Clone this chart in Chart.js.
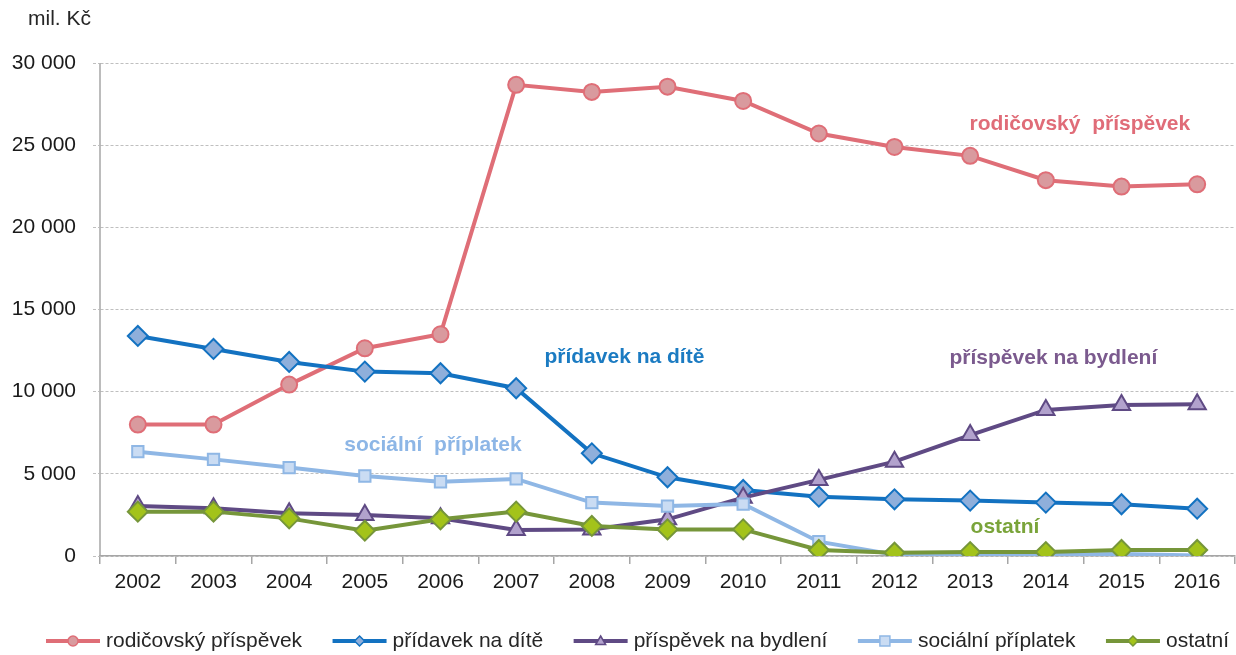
<!DOCTYPE html>
<html>
<head>
<meta charset="utf-8">
<script src="https://cdn.jsdelivr.net/npm/chart.js@4.4.1/dist/chart.umd.min.js"></script>
<style>
  html, body { margin: 0; padding: 0; background: #fff; }
  #wrap { width: 1236px; height: 655px; }
</style>
</head>
<body>
<div id="wrap"><canvas id="LineChart" width="1236" height="655"></canvas></div>
<script>
// Dávky státní sociální podpory, mil. Kč
const years = ["2002", "2003", "2004", "2005", "2006", "2007", "2008", "2009", "2010", "2011", "2012", "2013", "2014", "2015", "2016"];

const rodicovsky = [8000, 8000, 10430, 12640, 13490, 28670, 28240, 28560, 27690, 25710, 24890, 24350, 22870, 22480, 22620];
const pridavek = [13390, 12600, 11810, 11220, 11120, 10210, 6250, 4790, 4020, 3610, 3450, 3370, 3250, 3150, 2880];
const bydleni = [3050, 2900, 2600, 2500, 2290, 1580, 1620, 2230, 3550, 4630, 5740, 7360, 8890, 9190, 9230];
const socialni = [6350, 5880, 5380, 4870, 4520, 4690, 3250, 3040, 3160, 870, 80, 70, 80, 120, 30];
const ostatni = [2700, 2700, 2290, 1540, 2230, 2700, 1830, 1620, 1620, 370, 200, 240, 240, 370, 370];

const yTicks = [0, 5000, 10000, 15000, 20000, 25000, 30000];

const FONT = "'Liberation Sans', Arial, sans-serif";
const AXIS = "#a6a6a6";

const series = [
  { label: "rodičovský příspěvek", data: rodicovsky, line: "#df6e77", fill: "#d99a9e", style: "circle", r: 8, order: 5 },
  { label: "přídavek na dítě", data: pridavek, line: "#1372c1", fill: "#8fafdb", style: "rectRot", r: 10, order: 4 },
  { label: "příspěvek na bydlení", data: bydleni, line: "#5f4a84", fill: "#b2a2cd", style: "triangle", r: 10, order: 3 },
  { label: "sociální příplatek", data: socialni, line: "#8fb7e5", fill: "#cadcf3", style: "rect", r: 8, order: 2 },
  { label: "ostatní", data: ostatni, line: "#76963a", fill: "#a3c31a", style: "rectRot", r: 10, order: 1 }
];

// in-chart labels, placed in data units
const notes = [
  { text: "rodičovský  příspěvek", x: 12.45, y: 26300, color: "#e06c78" },
  { text: "přídavek na dítě", x: 6.43, y: 12100, color: "#1b7bc2" },
  { text: "příspěvek na bydlení", x: 12.1, y: 12050, color: "#7b5a8e" },
  { text: "sociální  příplatek", x: 3.9, y: 6750, color: "#8db6e6" },
  { text: "ostatní", x: 11.46, y: 1770, color: "#7aa43a" }
];

const fmt = v => String(v).replace(/\B(?=(\d{3})+(?!\d))/g, " ");

// solid y axis line (grid lines are dashed)
const axisLinePlugin = {
  id: "axisLine",
  beforeDatasetsDraw(chart) {
    const { ctx, chartArea: a } = chart;
    ctx.save();
    ctx.strokeStyle = AXIS;
    ctx.lineWidth = 1.5;
    ctx.beginPath();
    ctx.moveTo(a.left, a.top);
    ctx.lineTo(a.left, a.bottom);
    ctx.stroke();
    ctx.restore();
  }
};

const notesPlugin = {
  id: "notes",
  afterDatasetsDraw(chart) {
    const { ctx, scales: { x, y } } = chart;
    ctx.save();
    ctx.font = "bold 21px " + FONT;
    ctx.textAlign = "center";
    ctx.textBaseline = "middle";
    notes.forEach(n => {
      const x0 = x.getPixelForValue(0);
      const step = x.getPixelForValue(1) - x0;
      ctx.fillStyle = n.color;
      ctx.fillText(n.text, x0 + n.x * step, y.getPixelForValue(n.y));
    });
    // unit label
    ctx.font = "21px " + FONT;
    ctx.fillStyle = "#262626";
    ctx.textAlign = "left";
    ctx.fillText("mil. Kč", 28, 19);
    ctx.restore();
  }
};

function drawMarker(ctx, style, cx, cy, r) {
  ctx.beginPath();
  if (style === "circle") {
    ctx.arc(cx, cy, r, 0, Math.PI * 2);
  } else if (style === "rectRot") {
    ctx.moveTo(cx, cy - r); ctx.lineTo(cx + r, cy); ctx.lineTo(cx, cy + r); ctx.lineTo(cx - r, cy); ctx.closePath();
  } else if (style === "triangle") {
    ctx.moveTo(cx, cy - r); ctx.lineTo(cx + r, cy + r * 0.7); ctx.lineTo(cx - r, cy + r * 0.7); ctx.closePath();
  } else {
    ctx.rect(cx - r, cy - r, 2 * r, 2 * r);
  }
  ctx.fill();
  ctx.stroke();
}

const legendPlugin = {
  id: "bottomLegend",
  afterDraw(chart) {
    const ctx = chart.ctx;
    ctx.save();
    ctx.font = "21px " + FONT;
    const lineLen = 54, gap = 6;
    const widths = series.map(s => ctx.measureText(s.label).width);
    const left = 46, right = 1229;
    const used = widths.reduce((a, b) => a + b, 0) + series.length * (lineLen + gap);
    const spacing = (right - left - used) / (series.length - 1);
    let xPos = left;
    const yPos = 641;
    series.forEach((s, i) => {
      ctx.strokeStyle = s.line;
      ctx.lineWidth = 4;
      ctx.beginPath();
      ctx.moveTo(xPos, yPos);
      ctx.lineTo(xPos + lineLen, yPos);
      ctx.stroke();
      ctx.fillStyle = s.fill;
      ctx.lineWidth = 1.5;
      drawMarker(ctx, s.style, xPos + lineLen / 2, yPos, 5);
      ctx.fillStyle = "#262626";
      ctx.textAlign = "left";
      ctx.textBaseline = "middle";
      ctx.fillText(s.label, xPos + lineLen + gap, yPos);
      xPos += lineLen + gap + widths[i] + spacing;
    });
    ctx.restore();
  }
};

const config = {
  type: "line",
  data: {
    labels: years,
    datasets: series.map(s => ({
      label: s.label,
      data: s.data,
      order: s.order,
      borderColor: s.line,
      borderWidth: 4,
      pointStyle: s.style,
      pointRadius: s.r,
      pointBackgroundColor: s.fill,
      pointBorderColor: s.line,
      pointBorderWidth: 2,
      tension: 0
    }))
  },
  options: {
    responsive: false,
    animation: false,
    devicePixelRatio: 1,
    layout: { autoPadding: false, padding: { top: 63, right: 1, left: 0, bottom: 0 } },
    plugins: {
      legend: { display: false },
      tooltip: { enabled: false }
    },
    scales: {
      x: {
        offset: true,
        grid: {
          offset: true,
          drawOnChartArea: false,
          drawTicks: true,
          tickLength: 8,
          color: AXIS,
          lineWidth: 1.5
        },
        border: { color: AXIS, width: 1.5 },
        ticks: {
          color: "#1a1a1a",
          font: { family: FONT, size: 21 },
          padding: 6,
          maxRotation: 0
        },
        afterFit(scale) { scale.height = 99; }
      },
      y: {
        min: 0,
        max: 30000,
        afterBuildTicks(scale) { scale.ticks = yTicks.map(v => ({ value: v })); },
        grid: {
          color: "#bfbfbf",
          lineWidth: 1,
          tickLength: 7,
          tickBorderDash: [3, 2],
          tickColor: "#bfbfbf"
        },
        border: { color: "rgba(0,0,0,0)", width: 1.5, dash: [3, 2] },
        ticks: {
          color: "#1a1a1a",
          font: { family: FONT, size: 21 },
          padding: 17,
          callback: v => fmt(v)
        },
        afterFit(scale) { scale.width = 100; }
      }
    }
  },
  plugins: [axisLinePlugin, notesPlugin, legendPlugin]
};

new Chart(document.getElementById("LineChart").getContext("2d"), config);
</script>
</body>
</html>
